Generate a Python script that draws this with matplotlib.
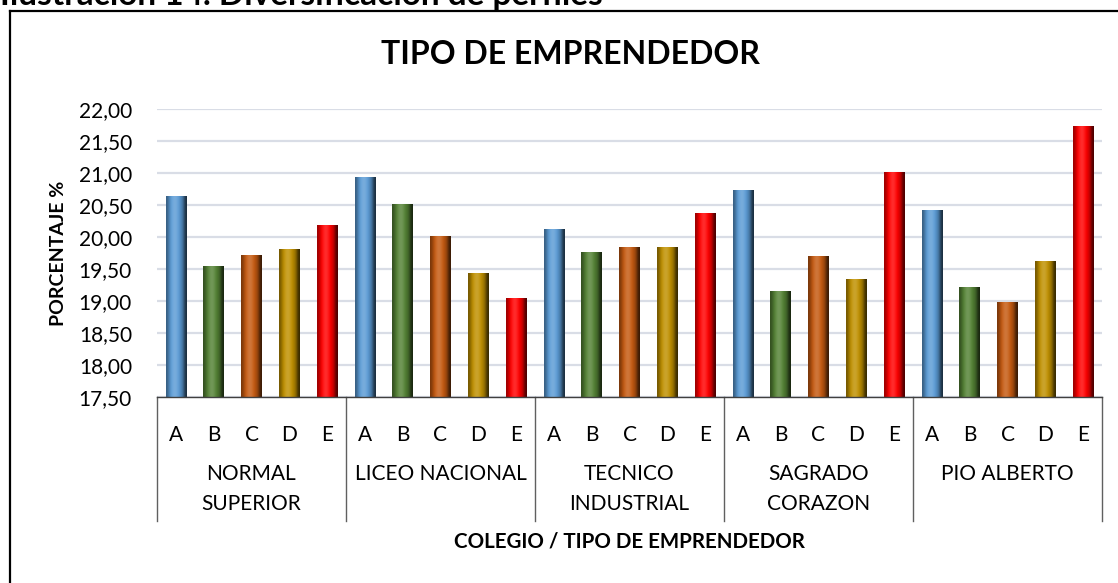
import numpy as np
import matplotlib
matplotlib.use("Agg")
import matplotlib.pyplot as plt
from matplotlib.lines import Line2D
from matplotlib.colors import to_rgb

plt.rcParams['font.family'] = ['Lato', 'DejaVu Sans']

# --- datos ---
colegios = ['NORMAL\nSUPERIOR', 'LICEO NACIONAL', 'TECNICO\nINDUSTRIAL',
            'SAGRADO\nCORAZON', 'PIO ALBERTO']
tipos = ['A', 'B', 'C', 'D', 'E']
normal_superior = [20.64, 19.55, 19.72, 19.82, 20.19]
liceo_nacional = [20.93, 20.52, 20.02, 19.43, 19.04]
tecnico_industrial = [20.12, 19.76, 19.85, 19.85, 20.38]
sagrado_corazon = [20.73, 19.16, 19.71, 19.35, 21.01]
pio_alberto = [20.42, 19.22, 18.98, 19.62, 21.73]
y_ticks = [17.5, 18.0, 18.5, 19.0, 19.5, 20.0, 20.5, 21.0, 21.5, 22.0]

colores = ['#5B9BD5', '#548235', '#C55A11', '#BF9000', '#FF0000']

valores = [normal_superior, liceo_nacional, tecnico_industrial,
           sagrado_corazon, pio_alberto]
base_y = y_ticks[0]

W, H = 1118, 583
fig = plt.figure(figsize=(W / 100, H / 100), dpi=100)
ax = fig.add_axes([157 / W, (H - 397) / H, (1102 - 157) / W, (397 - 109) / H])

# perfil horizontal del bisel
perfil = np.array([0.62, 0.75, 0.92, 1.05, 1.12, 1.15, 1.12, 1.05,
                   0.95, 0.85, 0.72, 0.45, 0.30])


def bisel(color):
    base = np.array(to_rgb(color))
    fila = []
    for f in perfil:
        if f >= 1:
            c = base + (1 - base) * (f - 1) * 1.2
        else:
            c = base * f
        fila.append(np.clip(c, 0, 1))
    return np.array(fila)[None, :, :]


for g, vals in enumerate(valores):
    for i, v in enumerate(vals):
        x = g * 5 + i
        b = ax.bar(x, v - base_y, bottom=base_y, width=0.55, color=colores[i],
                   zorder=2, linewidth=0)[0]
        img = ax.imshow(bisel(colores[i]), aspect='auto', interpolation='bicubic',
                        extent=[b.get_x(), b.get_x() + b.get_width(),
                                b.get_y(), b.get_y() + b.get_height()],
                        zorder=2.1)
        img.set_clip_path(b)

ax.set_xlim(-0.5, 24.5)
ax.set_ylim(17.5, 22.0)
ax.set_yticks(y_ticks)
ax.set_yticklabels([f'{t:.2f}'.replace('.', ',') for t in y_ticks], fontsize=15)
ax.yaxis.grid(True, color='#D9DDE6', linewidth=1.6, zorder=0)
ax.set_axisbelow(True)
ax.tick_params(axis='y', length=0, pad=18)
for s in ['top', 'right', 'left']:
    ax.spines[s].set_visible(False)
ax.spines['bottom'].set_color('#404040')
ax.spines['bottom'].set_linewidth(1.0)

ax.set_xticks(range(25))
ax.set_xticklabels(tipos * 5, fontsize=15)
ax.tick_params(axis='x', length=0, pad=20)

trans = ax.get_xaxis_transform()
for g, nombre in enumerate(colegios):
    ax.text(g * 5 + 2, -0.233, nombre, transform=trans, ha='center', va='top',
            fontsize=15, linespacing=1.6)
for g in range(6):
    ax.plot([g * 5 - 0.5, g * 5 - 0.5], [0, -0.43], transform=trans,
            color='#606060', linewidth=1.0, clip_on=False)

ax.set_ylabel('PORCENTAJE %', fontsize=14, fontweight='bold')
ax.yaxis.set_label_coords(-0.095, 0.5)
ax.text(0.5, -0.5, 'COLEGIO / TIPO DE EMPRENDEDOR', transform=ax.transAxes,
        ha='center', va='center', fontsize=14.8, fontweight='bold')

fig.text(570 / W, 1 - 55 / H, 'TIPO DE EMPRENDEDOR', ha='center', va='center',
         fontsize=23, fontweight='bold')

# texto del documento cortado arriba
fig.text(0 / W, 1 - 5 / H, 'Ilustración 14. Diversificación de perfiles',
         ha='left', va='baseline', fontsize=24, fontweight='bold')

# borde del área del gráfico
fig.add_artist(Line2D([9.5 / W, 9.5 / W], [0, 1 - 10.5 / H], color='black',
                      linewidth=1.6, transform=fig.transFigure))
fig.add_artist(Line2D([9.5 / W, 1], [1 - 11 / H, 1 - 11 / H], color='black',
                      linewidth=1.6, transform=fig.transFigure))

fig.savefig('out.png', dpi=100)
